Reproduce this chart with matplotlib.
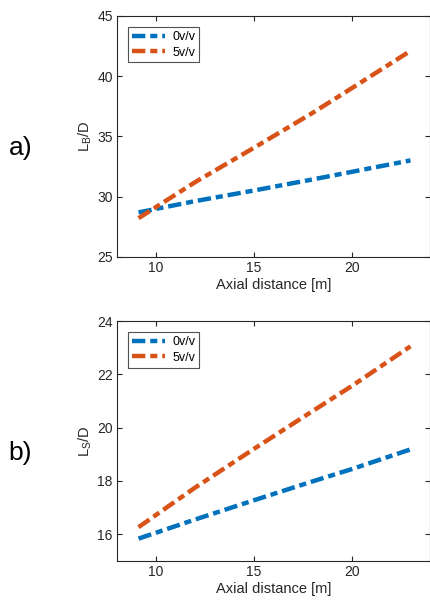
import matplotlib
matplotlib.use("Agg")
import matplotlib.pyplot as plt
import numpy as np

plt.rcParams['font.family'] = ['Liberation Sans', 'DejaVu Sans']

# valores
x_dist = [9.1, 12.0, 15.0, 18.0, 20.0, 23.0]
lb_0 = [28.68, 29.62, 30.50, 31.42, 32.05, 33.00]
lb_5 = [28.20, 31.20, 34.05, 36.95, 39.00, 42.10]
ls_0 = [15.83, 16.55, 17.27, 17.98, 18.44, 19.18]
ls_5 = [16.26, 17.75, 19.20, 20.62, 21.56, 23.05]

series = ['0v/v', '5v/v']
cores = ['#0072BD', '#D95319']
cinza = '#262626'

fig = plt.figure(figsize=(4.31, 6.03), dpi=100)
ax1 = fig.add_axes([0.2715, 0.5743, 0.7262, 0.3992])
ax2 = fig.add_axes([0.2715, 0.0701, 0.7262, 0.3975])

paineis = [
    (ax1, [lb_0, lb_5], (25, 45), [25, 30, 35, 40, 45], r'L$_\mathregular{B}$/D', 'a)', 0.754),
    (ax2, [ls_0, ls_5], (15, 24), [16, 18, 20, 22, 24], r'L$_\mathregular{S}$/D', 'b)', 0.249),
]

for ax, ys, ylim, yticks, ylab, letra, yletra in paineis:
    for y, nome, cor in zip(ys, series, cores):
        ax.plot(x_dist, y, color=cor, lw=3.2, dashes=(3, 1.1, 1.6, 1.1), label=nome)
    ax.set_xlim(8, 24)
    ax.set_ylim(*ylim)
    ax.set_xticks([10, 15, 20])
    ax.set_yticks(yticks)
    ax.tick_params(direction='in', top=True, right=True, labelsize=10,
                   colors=cinza, length=3.5, width=0.8, pad=3)
    for sp in ax.spines.values():
        sp.set_color(cinza)
        sp.set_linewidth(0.8)
    ax.set_xlabel('Axial distance [m]', fontsize=10.5, color=cinza, labelpad=2)
    ax.set_ylabel(ylab, fontsize=10.5, color=cinza, labelpad=2)
    leg = ax.legend(loc='upper left', fontsize=9, frameon=True, fancybox=False,
                    handlelength=2.6, borderpad=0.3, labelspacing=0.3,
                    handletextpad=0.6, borderaxespad=0.9)
    leg.get_frame().set_edgecolor(cinza)
    leg.get_frame().set_linewidth(0.8)
    # letra do painel em coordenadas da figura
    fig.text(0.047, yletra, letra, fontsize=19, ha='center', va='center', color='black')

plt.savefig('out.png', dpi=100)
plt.close()
